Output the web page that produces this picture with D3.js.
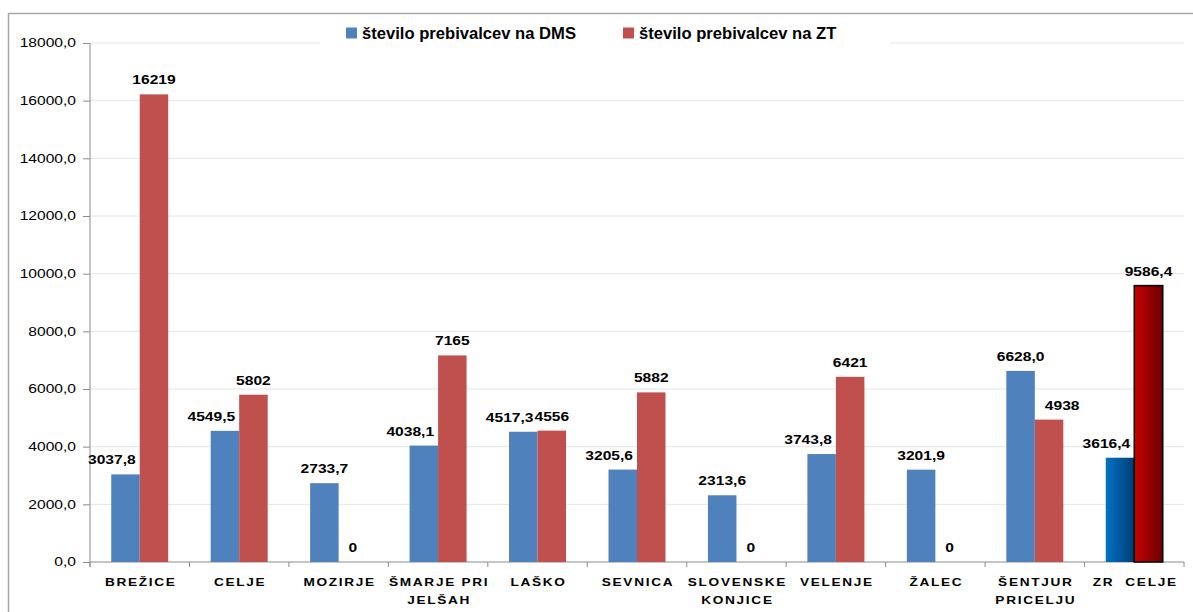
<!DOCTYPE html>
<html lang="sl">
<head>
  <meta charset="UTF-8">
  <title>DMS / ZT</title>
  <script src="https://d3js.org/d3.v7.min.js"></script>
  <style>
    body { margin: 0; background: #fff; }
    text { font-family: Arial, "Liberation Sans", sans-serif; }
  </style>
</head>
<body>
<script>
  // podatki
  var categories = ["BREŽICE", "CELJE", "MOZIRJE", "ŠMARJE PRI\nJELŠAH", "LAŠKO", "SEVNICA",
                    "SLOVENSKE\nKONJICE", "VELENJE", "ŽALEC", "ŠENTJUR\nPRICELJU", "ZR  CELJE"];
  var dms = [3037.8, 4549.5, 2733.7, 4038.1, 4517.3, 3205.6, 2313.6, 3743.8, 3201.9, 6628.0, 3616.4];
  var zt  = [16219, 5802, 0, 7165, 4556, 5882, 0, 6421, 0, 4938, 9586.4];
  var seriesNames = ["število prebivalcev na DMS", "število prebivalcev na ZT"];
  var yTicks = [0, 2000, 4000, 6000, 8000, 10000, 12000, 14000, 16000, 18000];
  var highlight = "ZR  CELJE";

  var width = 1193, height = 612;
  var plotL = 90, plotR = 1184, plotT = 43, plotB = 562;
  var sx = 1.3;   // stretched text like the original

  var svg = d3.select("body").append("svg")
      .attr("width", width)
      .attr("height", height);

  var defs = svg.append("defs");
  function grad(id, c1, c2) {
    var g = defs.append("linearGradient").attr("id", id)
        .attr("x1", "0%").attr("x2", "100%").attr("y1", "0%").attr("y2", "0%");
    g.append("stop").attr("offset", "0%").attr("stop-color", c1);
    g.append("stop").attr("offset", "100%").attr("stop-color", c2);
  }
  grad("gBlue", "#0072c6", "#003d73");
  grad("gRed", "#c80000", "#6a0000");

  // okvir
  svg.append("rect")
      .attr("x", 8.5).attr("y", 13.5)
      .attr("width", 1400).attr("height", 800)
      .attr("fill", "none").attr("stroke", "#a6a6a6").attr("stroke-width", 1.5);

  var x0 = d3.scaleBand().domain(categories).range([plotL, plotR]);
  var inner = 57;
  var pad = (x0.bandwidth() - inner) / 2;
  var x1 = d3.scaleBand().domain([0, 1]).range([pad, pad + inner]);
  var y = d3.scaleLinear().domain([0, 18000]).range([plotB, plotT]);

  // mreža
  svg.append("g").selectAll("line")
      .data(yTicks.slice(1))
      .enter().append("line")
      .attr("x1", plotL).attr("x2", plotR)
      .attr("y1", function(d) { return y(d); })
      .attr("y2", function(d) { return y(d); })
      .attr("stroke", "#e4e4e4").attr("stroke-width", 1);

  function stext(g, str, x, yy, size, weight, anchor, scale) {
    return g.append("text")
        .attr("transform", "translate(" + x + "," + yy + ") scale(" + (scale || sx) + ",1)")
        .attr("font-size", size)
        .attr("font-weight", weight)
        .attr("text-anchor", anchor)
        .attr("fill", "#000")
        .style("white-space", "pre")
        .text(str);
  }

  // y os
  var yAxis = svg.append("g")
      .attr("transform", "translate(" + plotL + ",0)")
      .call(d3.axisLeft(y).tickValues(yTicks).tickSize(7).tickFormat(""));
  yAxis.select(".domain").attr("stroke", "#8c8c8c").attr("d", "M0," + plotT + "V" + (plotB + 5));
  yAxis.selectAll(".tick line").attr("stroke", "#8c8c8c");
  yTicks.forEach(function(t) {
    stext(svg, d3.format(".1f")(t).replace(".", ","), 76, y(t) + 4.3, 12, "normal", "end");
  });

  // x os
  var bounds = categories.map(function(c) { return x0(c); }).concat([plotR]);
  var xg = svg.append("g");
  xg.append("line").attr("x1", plotL).attr("x2", plotR).attr("y1", plotB).attr("y2", plotB)
      .attr("stroke", "#8c8c8c");
  xg.selectAll(".tk").data(bounds).enter().append("line")
      .attr("x1", function(d) { return d; }).attr("x2", function(d) { return d; })
      .attr("y1", plotB).attr("y2", plotB + 5)
      .attr("stroke", "#8c8c8c");

  categories.forEach(function(c) {
    var lines = c.split("\n");
    lines.forEach(function(l, i) {
      stext(svg, l, x0(c) + x0.bandwidth() / 2 + 1, 586 + i * 18, 10.5, "bold", "middle")
          .attr("letter-spacing", 1.3);
    });
  });

  // stolpci
  var colors = ["#4f81bd", "#c0504d"];
  var series = [dms, zt];
  var fmt = [
    function(v) { return v.toFixed(1).replace(".", ","); },
    function(v) { return Number.isInteger(v) ? String(v) : v.toFixed(1).replace(".", ","); }
  ];

  categories.forEach(function(c, ci) {
    var hi = c === highlight;
    series.forEach(function(s, si) {
      var v = s[ci];
      var bx = x0(c) + x1(si);
      var bw = x1.bandwidth();
      if (v > 0) {
        svg.append("rect")
            .attr("x", bx).attr("y", y(v))
            .attr("width", bw).attr("height", y(0) - y(v))
            .attr("fill", hi ? (si === 0 ? "url(#gBlue)" : "url(#gRed)") : colors[si])
            .attr("stroke", hi && si === 1 ? "#000" : "none")
            .attr("stroke-width", 1.5);
      }
      // oznaka
      var other = series[1 - si][ci];
      var lx = bx + bw / 2, anchor = "middle";
      if (v > 0 && other > v) {
        if (si === 0) { lx = bx + bw - 4; anchor = "end"; }
        else { lx = bx + 10; anchor = "start"; }
      }
      stext(svg, fmt[si](v), lx, y(v) - 10, 12, "bold", anchor);
    });
  });

  // legenda
  var leg = svg.append("g");
  leg.append("rect").attr("x", 320).attr("y", 18).attr("width", 570).attr("height", 30).attr("fill", "#fff");
  var legX = [346, 623];
  seriesNames.forEach(function(n, i) {
    leg.append("rect").attr("x", legX[i]).attr("y", 27.5).attr("width", 11).attr("height", 11)
        .attr("fill", colors[i]);
    stext(leg, n, legX[i] + 16, 38.5, 16.6, "bold", "start", 1);
  });
</script>
</body>
</html>
